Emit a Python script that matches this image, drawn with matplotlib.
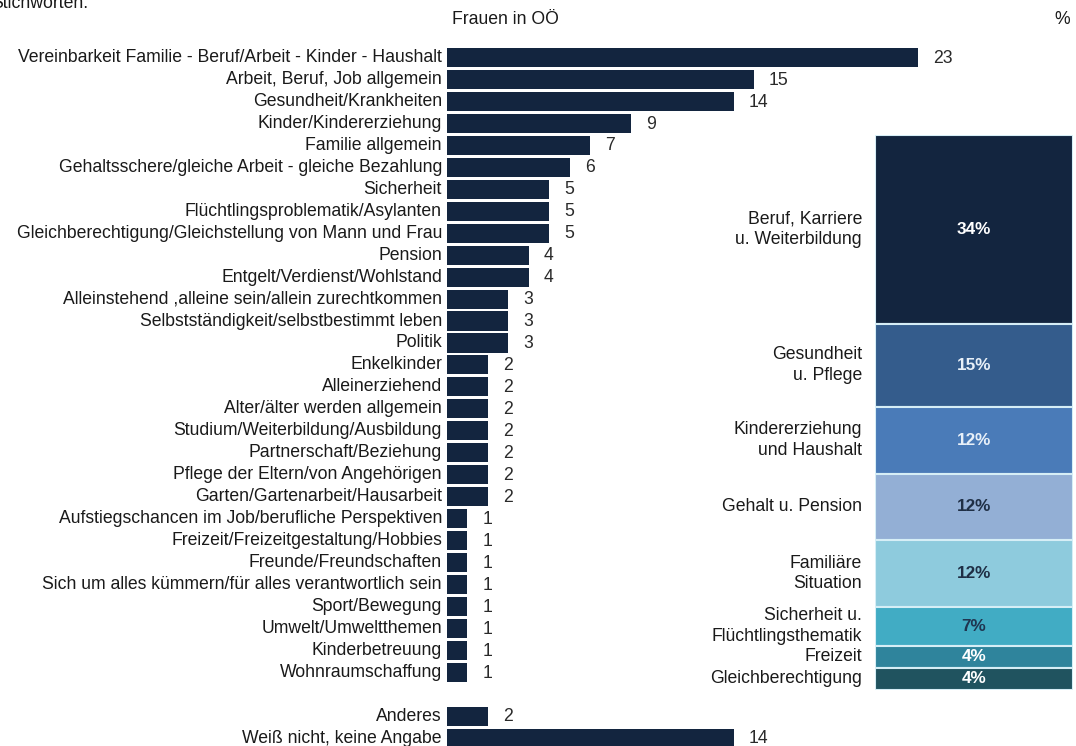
import matplotlib
matplotlib.use("Agg")
import matplotlib.pyplot as plt

plt.rcParams['font.family'] = ['Liberation Sans', 'DejaVu Sans']

# ---- data ----
categories = [
    "Vereinbarkeit Familie - Beruf/Arbeit - Kinder - Haushalt",
    "Arbeit, Beruf, Job allgemein",
    "Gesundheit/Krankheiten",
    "Kinder/Kindererziehung",
    "Familie allgemein",
    "Gehaltsschere/gleiche Arbeit - gleiche Bezahlung",
    "Sicherheit",
    "Flüchtlingsproblematik/Asylanten",
    "Gleichberechtigung/Gleichstellung von Mann und Frau",
    "Pension",
    "Entgelt/Verdienst/Wohlstand",
    "Alleinstehend ,alleine sein/allein zurechtkommen",
    "Selbstständigkeit/selbstbestimmt leben",
    "Politik",
    "Enkelkinder",
    "Alleinerziehend",
    "Alter/älter werden allgemein",
    "Studium/Weiterbildung/Ausbildung",
    "Partnerschaft/Beziehung",
    "Pflege der Eltern/von Angehörigen",
    "Garten/Gartenarbeit/Hausarbeit",
    "Aufstiegschancen im Job/berufliche Perspektiven",
    "Freizeit/Freizeitgestaltung/Hobbies",
    "Freunde/Freundschaften",
    "Sich um alles kümmern/für alles verantwortlich sein",
    "Sport/Bewegung",
    "Umwelt/Umweltthemen",
    "Kinderbetreuung",
    "Wohnraumschaffung",
]
values = [23, 15, 14, 9, 7, 6, 5, 5, 5, 4, 4, 3, 3, 3, 2, 2, 2, 2, 2, 2, 2,
          1, 1, 1, 1, 1, 1, 1, 1]
extra_categories = ["Anderes", "Weiß nicht, keine Angabe"]
extra_values = [2, 14]

group_labels = ["Beruf, Karriere\nu. Weiterbildung", "Gesundheit\nu. Pflege",
                "Kindererziehung\nund Haushalt", "Gehalt u. Pension",
                "Familiäre\nSituation", "Sicherheit u.\nFlüchtlingsthematik",
                "Freizeit", "Gleichberechtigung"]
group_values = [34, 15, 12, 12, 12, 7, 4, 4]
group_colors = ["#13253f", "#345c8c", "#4a7bb8", "#93afd5", "#8ecbdd",
                "#41acc4", "#2f849c", "#20535f"]
group_text_colors = ["white", "#e8f0f8", "#e8f0f8", "#1f2f45", "#1f2f45",
                     "#1f3550", "white", "white"]

W, H = 1076, 746
fig = plt.figure(figsize=(W / 100, H / 100), dpi=100)
fig.patch.set_facecolor("white")

# ---- main bar axes (full figure) ----
ax = fig.add_axes([0, 0, 1, 1])
ax.axis("off")
px_per_unit = 20.48
x0 = 447
row_px = 21.96
y0 = 57.5
ax.set_xlim(-x0 / px_per_unit, (W - x0) / px_per_unit)
ax.set_ylim((H - y0) / row_px, -y0 / row_px)

navy = "#13253f"
rows = list(range(len(categories))) + [len(categories) + 1, len(categories) + 2]
all_cats = categories + extra_categories
all_vals = values + extra_values

ax.barh(rows, all_vals, height=0.87, color=navy, edgecolor="none")
fs = 12.7
for r, c, v in zip(rows, all_cats, all_vals):
    ax.text(-0.25, r, c, ha="right", va="center", fontsize=fs, color="#1a1a1a")
    ax.text(v + 0.72, r + 0.03, str(v), ha="left", va="center", fontsize=fs,
            color="#2a2a2a")

# ---- stacked bar ----
sx0, sx1 = 875, 1073
sy_top, sy_bot = 135, 690
ax2 = fig.add_axes([sx0 / W, (H - sy_bot) / H, (sx1 - sx0) / W,
                    (sy_bot - sy_top) / H])
ax2.axis("off")
ax2.set_xlim(0, 1)
ax2.set_ylim(sum(group_values), 0)
bottom = 0
for lab, v, col, tc in zip(group_labels, group_values, group_colors,
                           group_text_colors):
    ax2.bar(0.5, v, bottom=bottom, width=1.0, color=col,
            edgecolor="#d6eef6", linewidth=1.5)
    mid = bottom + v / 2
    ax2.text(0.5, mid, f"{v}%", ha="center", va="center", fontsize=12.3,
             color=tc, fontweight="bold")
    ax2.text(-0.066, mid, lab, ha="right", va="center", fontsize=fs,
             color="#1a1a1a", linespacing=1.3, clip_on=False)
    bottom += v

# ---- header texts ----
fig.text(505 / W, 1 - 20 / H, "Frauen in OÖ", ha="center", va="center",
         fontsize=fs, color="#1a1a1a")
fig.text(1062 / W, 1 - 20 / H, "%", ha="center", va="center",
         fontsize=fs, color="#1a1a1a")
fig.text(88 / W, 1 - 4 / H, "Stichworten.", ha="right", va="center",
         fontsize=fs, color="#1a1a1a")

fig.savefig("out.png", dpi=100, facecolor="white")
